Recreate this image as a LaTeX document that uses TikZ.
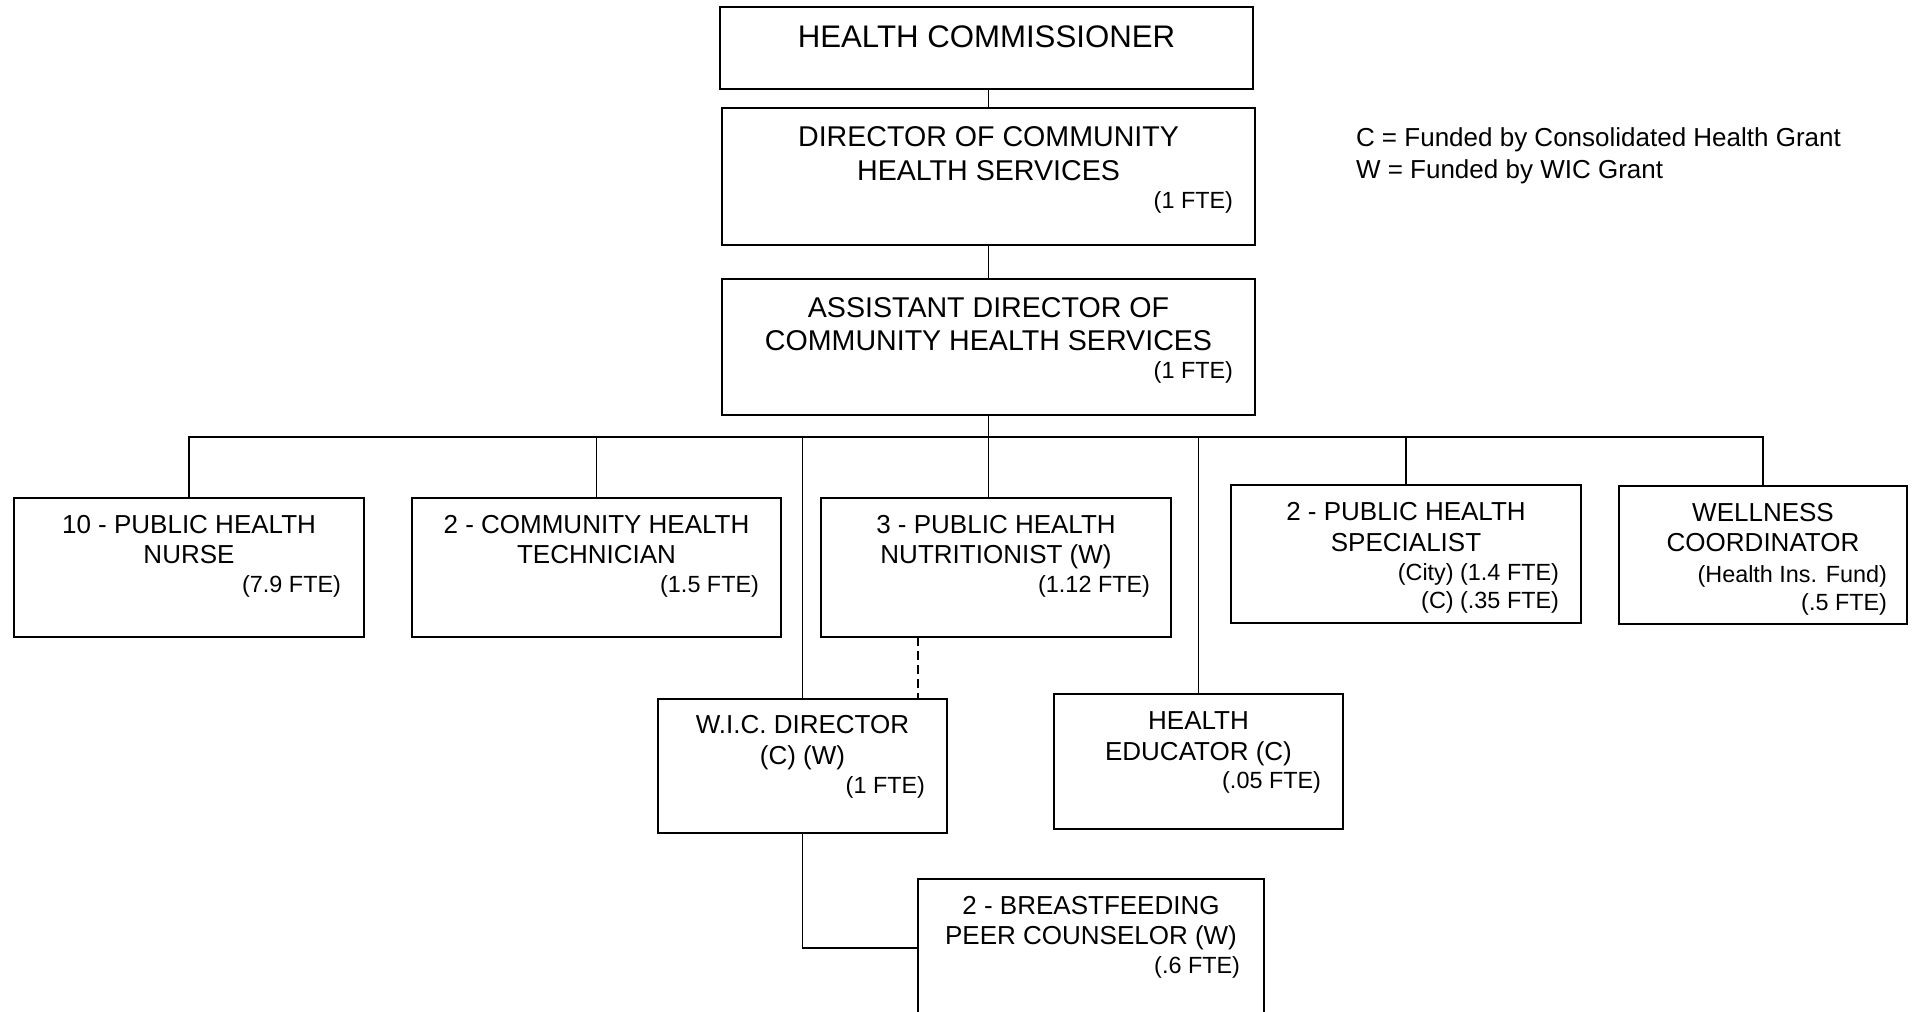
\documentclass[tikz,border=0pt]{standalone}
\usepackage{fontspec}
\setmainfont{Liberation Sans}
\newlength\pxu
\setlength\pxu{0.3846pt}

\begin{document}
\begin{tikzpicture}[x=0.3846pt,y=-0.3846pt,outer sep=0pt,inner sep=0pt,
    post/.style={draw,line width=1.5\pxu,anchor=north west},
    ttl/.style={anchor=base,align=center,font=\fontsize{10}{11.7}\selectfont},
    fte/.style={anchor=base east,align=right,font=\fontsize{9}{10.4}\selectfont},
    link/.style={line width=1.3\pxu}]
\useasboundingbox (0,0) rectangle (1915,1011);
\clip (0,0) rectangle (1915,1011);
\draw
(720,7) node[post,minimum width=533\pxu,minimum height=82\pxu] (hc) {}
(722,108) node[post,minimum width=533\pxu,minimum height=137\pxu] (dir) {}
(722,279) node[post,minimum width=533\pxu,minimum height=136\pxu] (asst) {}
(14,498) node[post,minimum width=350\pxu,minimum height=139\pxu] (nurse) {}
(412,498) node[post,minimum width=369\pxu,minimum height=139\pxu] (tech) {}
(821,498) node[post,minimum width=350\pxu,minimum height=139\pxu] (nutr) {}
(1231,485) node[post,minimum width=350\pxu,minimum height=138\pxu] (spec) {}
(1619,486) node[post,minimum width=288\pxu,minimum height=138\pxu] (well) {}
(658,699) node[post,minimum width=289\pxu,minimum height=134\pxu] (wic) {}
(1054,694) node[post,minimum width=289\pxu,minimum height=135\pxu] (hed) {}
(918,879) node[post,minimum width=346\pxu,minimum height=138\pxu] (bf) {}
;
% titles (base = last line)
\node[ttl,font=\fontsize{12}{14}\selectfont] (hc-t) at ([shift={(0,40)}]hc.north) {HEALTH COMMISSIONER};
\node[ttl,font=\fontsize{11}{12.8}\selectfont] (dir-t) at ([shift={(0,72)}]dir.north) {DIRECTOR OF COMMUNITY\\HEALTH SERVICES};
\node[ttl,font=\fontsize{11}{12.8}\selectfont] (asst-t) at ([shift={(0,71.3)}]asst.north) {ASSISTANT DIRECTOR OF\\COMMUNITY HEALTH SERVICES};
\node[ttl] (nurse-t) at ([shift={(0,65.5)}]nurse.north) {10 - PUBLIC HEALTH\\NURSE};
\node[ttl] (tech-t) at ([shift={(0,65.5)}]tech.north) {2 - COMMUNITY HEALTH\\TECHNICIAN};
\node[ttl] (nutr-t) at ([shift={(0,65.5)}]nutr.north) {3 - PUBLIC HEALTH\\NUTRITIONIST (W)};
\node[ttl] (spec-t) at ([shift={(0,66)}]spec.north) {2 - PUBLIC HEALTH\\SPECIALIST};
\node[ttl] (well-t) at ([shift={(0,65.5)}]well.north) {WELLNESS\\COORDINATOR};
\node[ttl] (wic-t) at ([shift={(0,65)}]wic.north) {W.I.C. DIRECTOR\\(C) (W)};
\node[ttl] (hed-t) at ([shift={(0,66)}]hed.north) {HEALTH\\EDUCATOR (C)};
\node[ttl] (bf-t) at ([shift={(0,65.5)}]bf.north) {2 - BREASTFEEDING\\PEER COUNSELOR (W)};
% fte
\node[fte] (dir-f) at ([shift={(-22,100)}]dir.north east) {(1 FTE)};
\node[fte] (asst-f) at ([shift={(-22,99.5)}]asst.north east) {(1 FTE)};
\node[fte] (nurse-f) at ([shift={(-23,94)}]nurse.north east) {(7.9 FTE)};
\node[fte] (tech-f) at ([shift={(-22,94)}]tech.north east) {(1.5 FTE)};
\node[fte] (nutr-f) at ([shift={(-21,94)}]nutr.north east) {(1.12 FTE)};
\node[fte] (spec-f) at ([shift={(-22,123)}]spec.north east) {(City) (1.4 FTE)\\(C) (.35 FTE)};
\node[fte] (well-f) at ([shift={(-20,124)}]well.north east) {(Health Ins. Fund)\\(.5 FTE)};
\node[fte] (wic-f) at ([shift={(-22,94.5)}]wic.north east) {(1 FTE)};
\node[fte] (hed-f) at ([shift={(-22,94.5)}]hed.north east) {(.05 FTE)};
\node[fte] (bf-f) at ([shift={(-24,94)}]bf.north east) {(.6 FTE)};
% legend
\node[anchor=base west,align=left,font=\fontsize{10}{12}\selectfont] (legend) at (1356,178)
  {C = Funded by Consolidated Health Grant\\W = Funded by WIC Grant};
% lines
\coordinate (bus) at (990,437);
\draw[link] (dir.north |- hc.south) -- (dir.north);
\draw[link] (dir.south) -- (asst.north);
\draw[link] (asst.south) -- (asst.south |- nutr.north);
\draw[link] (nurse.north) -- (nurse.north |- bus) -- (well.north |- bus) -- (well.north);
\draw[link] (tech.north) -- (tech.north |- bus);
\draw[link] (wic.north) -- (wic.north |- bus);
\draw[link] (hed.north) -- (hed.north |- bus);
\draw[link] (spec.north) -- (spec.north |- bus);
\draw[link,dash pattern=on 9\pxu off 5\pxu] (nutr.south -| bf.west) -- (wic.north -| bf.west);
\draw[link] (wic.south) |- (bf.west);
\end{tikzpicture}
\end{document}
